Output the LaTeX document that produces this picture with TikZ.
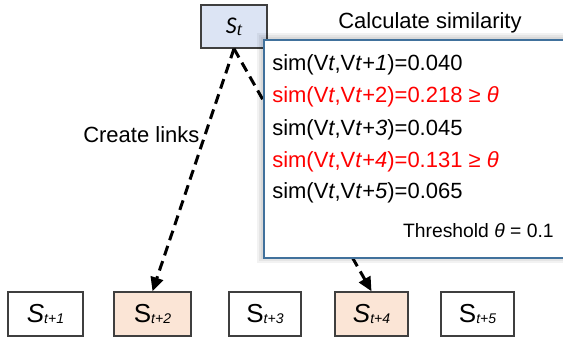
\documentclass[tikz,border=0pt]{standalone}
\usepackage{fontspec}
\setmainfont{Liberation Sans}
\newfontfamily\calfont{Carlito}
\newfontfamily\serfont{Liberation Serif}
\usetikzlibrary{arrows.meta}
\definecolor{boxblue}{HTML}{DCE4F4}
\definecolor{peach}{HTML}{FBE5D6}
\definecolor{popborder}{HTML}{41719C}
\definecolor{edgegray}{HTML}{3F3F3F}
\newcommand{\bigS}[2]{{\fontsize{19.5}{22}\selectfont #1}\raisebox{-1pt}{\fontsize{10.5}{12}\selectfont\itshape #2}}
\begin{document}
\begin{tikzpicture}[x=0.75pt,y=-0.75pt,
  sbox/.style={draw=edgegray, line width=1.1pt, minimum width=54pt, minimum height=33pt, inner sep=0pt},
  txt/.style={font=\fontsize{16.5}{20}\selectfont, inner sep=0pt},
  link/.style={line width=2.25pt, dash pattern=on 7.5pt off 4.5pt, -{Triangle[length=10.5pt,width=9.5pt]}}]
\clip (0,0) rectangle (563,340);
\fill[white] (0,0) rectangle (563,340);

% top box
\node[sbox, fill=boxblue, minimum width=49.5pt, minimum height=32.25pt] (st) at (234,26.5)
  {\raisebox{-2pt}{{\calfont\itshape\fontsize{18}{20}\selectfont S}\raisebox{-1.5pt}{\serfont\itshape\fontsize{14}{16}\selectfont t}}};

% bottom boxes
\node[sbox, fill=white, minimum width=56pt] (b1) at (45.5,314) {\bigS{\itshape S}{t+1}};
\node[sbox, fill=peach, minimum width=57.5pt] (b2) at (152.5,314) {\bigS{S}{t+2}};
\node[sbox, fill=white, minimum width=54pt] (b3) at (265,314) {\bigS{S}{t+3}};
\node[sbox, fill=peach, minimum width=55pt] (b4) at (371.5,314) {\bigS{\itshape S}{t+4}};
\node[sbox, fill=white, minimum width=55pt] (b5) at (477.5,314) {\bigS{S}{t+5}};

% links
\draw[link] (st.south) -- (b2.north);
\draw[link] (st.south) -- (b4.north);

\node[txt, anchor=base west] (create) at (83,142) {Create links};
\node[txt, anchor=base west] (calc) at (338,28) {Calculate similarity};

% popup with soft shadow
\foreach \e in {2,4,6}
  \fill[black, opacity=0.05] (263-\e,39-\e) rectangle (566+\e,257+\e);
\node[draw=popborder, line width=1.5pt, fill=white, minimum width=227pt, minimum height=163.5pt, inner sep=0pt, anchor=north west] (pop) at (263,39) {};

\node[txt, anchor=base west] (l1) at (272,70) {sim(V\textit{t},V\textit{t}+\textit{1})=0.040};
\node[txt, anchor=base west, text=red] (l2) at (272,102) {sim(V\textit{t},V\textit{t}+2)=0.218 ≥ \textit{θ}};
\node[txt, anchor=base west] (l3) at (272,135) {sim(V\textit{t},V\textit{t}+\textit{3})=0.045};
\node[txt, anchor=base west, text=red] (l4) at (272,167) {sim(V\textit{t},V\textit{t}+\textit{4})=0.131 ≥ \textit{θ}};
\node[txt, anchor=base west] (l5) at (272,198) {sim(V\textit{t},V\textit{t}+\textit{5})=0.065};
\node[inner sep=0pt, font=\fontsize{14.5}{18}\selectfont, anchor=base east] (thr) at (554,237) {Threshold \textit{θ} = 0.1};
\end{tikzpicture}
\end{document}
